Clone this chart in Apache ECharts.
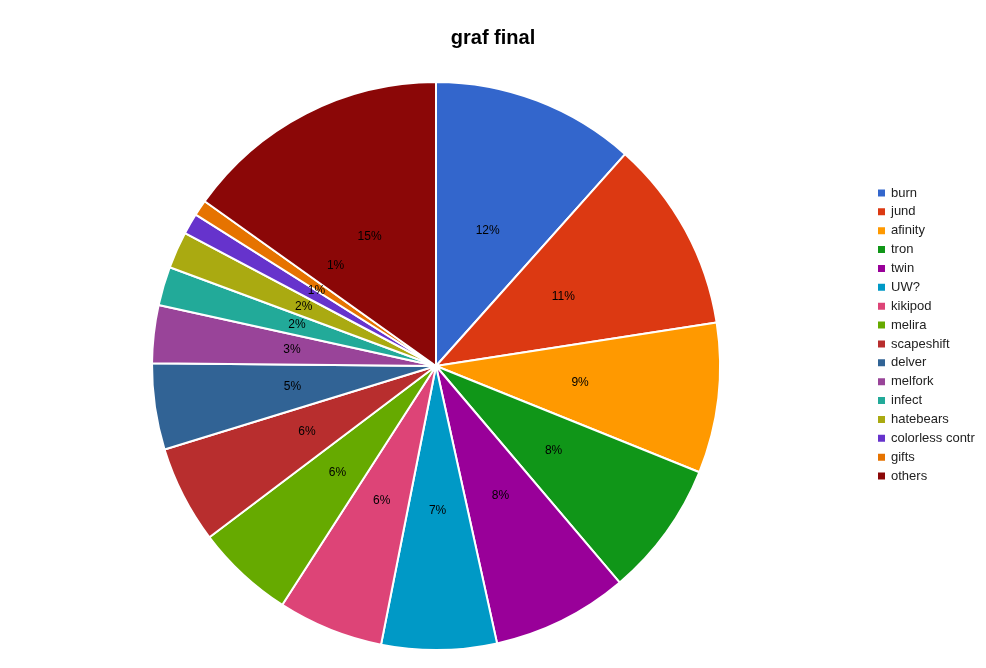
<!DOCTYPE html>
<html>
<head>
<meta charset="utf-8">
<script src="https://cdn.jsdelivr.net/npm/echarts@6/dist/echarts.min.js"></script>
<style>
html,body{margin:0;padding:0;background:#fff;}
#c{width:986px;height:668px;}
</style>
</head>
<body>
<div id="c"></div>
<script>
var categories = ['burn','jund','afinity','tron','twin','UW?','kikipod','melira','scapeshift','delver','melfork','infect','hatebears','colorless contr','gifts','others'];
var values = [11.6, 10.95, 8.55, 7.7, 7.75, 6.55, 6.0, 5.6, 5.55, 4.9, 3.3, 2.2, 2.1, 1.2, 0.9, 15.15];
var colors = ['#3366cc','#dc3912','#ff9900','#109618','#990099','#0099c6','#dd4477','#66aa00','#b82e2e','#316395','#994499','#22aa99','#aaaa11','#6633cc','#e67300','#8b0707'];

var total = values.reduce(function(a,b){return a+b;},0);
var data = categories.map(function(n,i){
  var item = {name:n, value:values[i], itemStyle:{color:colors[i]}};
  if (n === 'gifts') item.label = {offset:[20,-20]};
  if (n === 'colorless contr') item.label = {offset:[6,-3]};
  return item;
});

var chart = echarts.init(document.getElementById('c'));
chart.setOption({
  animation:false,
  title:{
    text:'graf final',
    left:'center',
    top:23,
    textStyle:{fontFamily:'Liberation Sans, Arial, sans-serif',fontSize:20,fontWeight:'bold',color:'#000'}
  },
  legend:{
    orient:'vertical',
    left:871,
    top:180,
    icon:'rect',
    itemWidth:9,
    itemHeight:9,
    itemGap:2.87,
    selectedMode:false,
    textStyle:{fontFamily:'Liberation Sans, Arial, sans-serif',fontSize:13,color:'#222',lineHeight:16},
    data:categories
  },
  series:[{
    type:'pie',
    center:[436,366],
    radius:[0,284],
    startAngle:90,
    clockwise:true,
    avoidLabelOverlap:false,
    itemStyle:{borderColor:'#fff',borderWidth:2},
    label:{
      show:true,
      position:'inside',
      color:'#000',
      fontFamily:'Liberation Sans, Arial, sans-serif',
      fontSize:12,
      formatter:function(p){return Math.round(p.value/total*100)+'%';}
    },
    labelLine:{show:false},
    emphasis:{disabled:true},
    data:data
  }]
});
</script>
</body>
</html>
